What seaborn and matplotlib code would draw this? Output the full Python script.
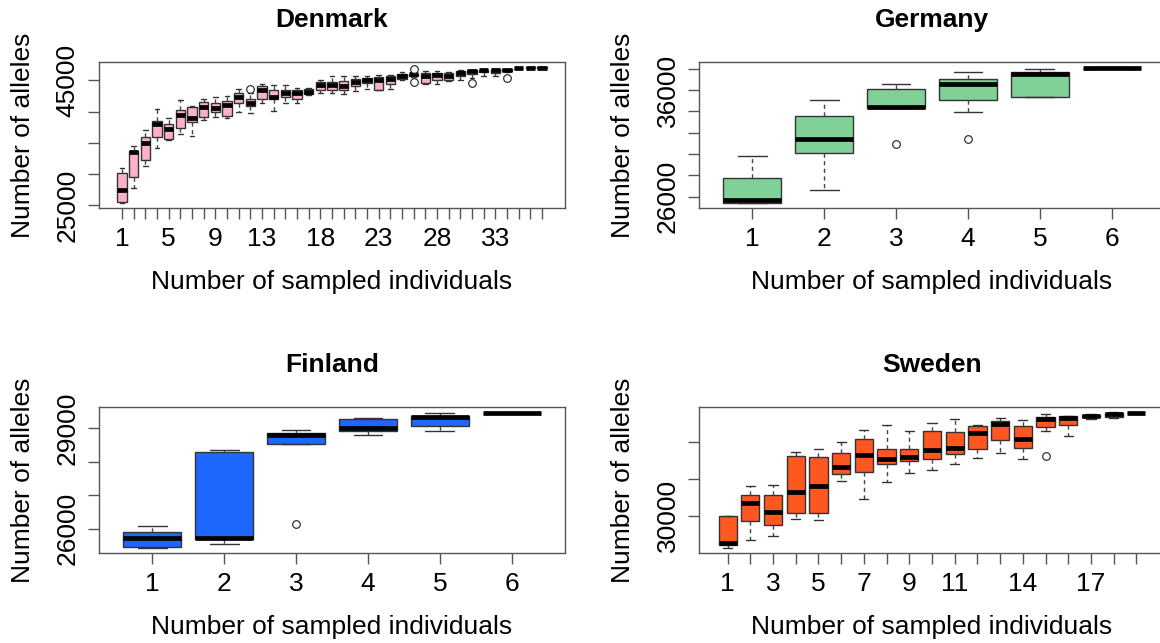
import numpy as np
import pandas as pd
import matplotlib
matplotlib.use("Agg")
import matplotlib.pyplot as plt
import seaborn as sns

# ---------------- data (box statistics) ----------------
# Denmark: 37 boxes
dk_lo  = [25430, 27750, 31320, 34110, 35530, 36430, 36050, 38690, 39210, 38960,
          40000, 39840, 41330, 40110, 41330, 41420, 42640, 42910, 42910, 42750,
          43270, 43700, 43540, 43700, 45000, 45560, 44450, 44370, 44850, 45000,
          45320, 45640, 45640, 46350, 46930, 47020, 47030]
dk_q1  = [25540, 29580, 32220, 35960, 35640, 37380, 38260, 39210, 39910, 39370,
          41420, 40900, 41960, 41960, 42370, 42010, 42800, 43430, 43540, 43540,
          44060, 44640, 43540, 44490, 45160, 45750, 44530, 45000, 45000, 45640,
          45950, 46270, 46110, 46430, 46960, 47040, 47050]
dk_med = [27370, 33530, 34900, 38060, 37270, 39480, 39050, 40790, 40540, 41060,
          42370, 41330, 43430, 42370, 43000, 43060, 43160, 44330, 44330, 44060,
          44740, 45010, 45120, 45270, 45640, 45950, 45640, 45800, 45720, 46110,
          46430, 46590, 46660, 46660, 46980, 47060, 47060]
dk_q3  = [30120, 33690, 35960, 38420, 38060, 40270, 40790, 41480, 41330, 41740,
          43000, 41960, 44060, 43540, 43540, 43540, 43590, 44740, 44740, 44850,
          45270, 45430, 45530, 45640, 45950, 46100, 46110, 46110, 46190, 46430,
          46590, 46740, 46820, 46820, 47000, 47070, 47070]
dk_hi  = [30900, 34470, 37110, 40380, 38960, 41850, 40850, 41960, 42270, 42530,
          43590, 42910, 44490, 44330, 44330, 43790, 43850, 45120, 45640, 45750,
          45640, 45640, 45800, 45800, 46270, 46430, 46430, 46430, 46270, 46590,
          46740, 46820, 46900, 46900, 47020, 47080, 47080]
dk_out_n = [12, 26, 26, 31, 34]
dk_out_v = [43600, 46820, 44690, 44530, 45320]

# Germany: 6 boxes
de_lo  = [25450, 26640, 34280, 33900, 35300, 38050]
de_q1  = [25450, 30050, 34280, 35020, 35300, 38070]
de_med = [25730, 31430, 34370, 36580, 37500, 38090]
de_q3  = [27750, 33550, 36100, 37040, 37680, 38100]
de_hi  = [29860, 35100, 36580, 37680, 37960, 38110]
de_out_n = [3, 4]
de_out_v = [30970, 31430]

# Finland: 6 boxes
fi_lo  = [25430, 25550, 28530, 28780, 28900, 29450]
fi_q1  = [25460, 25680, 28530, 28900, 29050, 29455]
fi_med = [25710, 25710, 28780, 29000, 29320, 29460]
fi_q3  = [25900, 28300, 28850, 29270, 29370, 29465]
fi_hi  = [26070, 28360, 28930, 29290, 29440, 29470]
fi_out_n = [3]
fi_out_v = [26150]

# Sweden: 19 boxes
se_lo  = [25650, 26670, 27290, 29560, 29430, 34670, 32320, 34630, 35870, 36190,
          36990, 37870, 38530, 37730, 41520, 40850, 43200, 43290, 43940]
se_q1  = [26000, 29330, 28670, 30320, 30320, 35650, 36000, 36990, 37430, 37790,
          38450, 39070, 40320, 39200, 42090, 42400, 43430, 43430, 43950]
se_med = [26320, 31730, 30530, 33200, 34090, 36630, 38230, 37790, 38000, 38990,
          39200, 41330, 42530, 40450, 43200, 43330, 43650, 43870, 43960]
se_q3  = [30000, 32890, 32890, 38090, 37960, 38530, 40450, 39120, 39120, 41560,
          41430, 42190, 42850, 42230, 43430, 43560, 43790, 44000, 43970]
se_hi  = [30000, 34000, 34230, 38670, 39070, 40000, 41730, 42400, 41560, 42670,
          43200, 42400, 43330, 43120, 43870, 43650, 43870, 44090, 43980]
se_out_n = [15]
se_out_v = [38190]

# axis tick labels (as shown; blank = tick without label)
dk_xlabels = ["1", "5", "9", "13", "18", "23", "28", "33"]
se_xlabels = ["1", "3", "5", "7", "9", "11", "14", "17"]
de_xlabels = ["1", "2", "3", "4", "5", "6"]
fi_xlabels = ["1", "2", "3", "4", "5", "6"]

dk_yticks = [25000, 30000, 35000, 40000, 45000]
dk_ylabels = ["25000", "", "", "", "45000"]
de_yticks = [26000, 28000, 30000, 32000, 34000, 36000, 38000]
de_ylabels = ["26000", "", "", "", "", "36000", ""]
fi_yticks = [26000, 27000, 28000, 29000]
fi_ylabels = ["26000", "", "", "29000"]
se_yticks = [30000, 35000, 40000]
se_ylabels = ["30000", "", ""]

titles = ["Denmark", "Germany", "Finland", "Sweden"]
colors = ["#FDB1C8", "#80D197", "#1F66FF", "#FF5722"]

# ---------------- style ----------------
sns.set_theme(style="white")
plt.rcParams["font.family"] = ["Liberation Sans", "DejaVu Sans"]
plt.rcParams["text.color"] = "black"
plt.rcParams["axes.labelcolor"] = "black"
plt.rcParams["xtick.color"] = "black"
plt.rcParams["ytick.color"] = "black"
plt.rcParams["axes.titlecolor"] = "black"
FS = 19
EDGE = "#555555"

W, H = 1160, 643
fig = plt.figure(figsize=(W / 100, H / 100), dpi=100)


def frame(x0, y0, w=466, h=146):
    return [x0 / W, 1 - (y0 + h) / H, w / W, h / H]


def panel(pos, lo, q1, med, q3, hi, out_n, out_v, xlabels, yticks, ylabels,
          title, color):
    ax = fig.add_axes(pos)
    n = len(med)
    order = [str(i) for i in range(1, n + 1)]
    rows = []
    for i in range(n):
        vals = [lo[i], lo[i], q1[i], (q1[i] + med[i]) / 2, med[i],
                (med[i] + q3[i]) / 2, q3[i], hi[i], hi[i]]
        rows += [(order[i], v) for v in vals]
    df = pd.DataFrame(rows, columns=["n", "alleles"])
    sns.boxplot(data=df, x="n", y="alleles", order=order, ax=ax,
                color=color, saturation=1, width=0.8, whis=(0, 100),
                showfliers=False, linecolor="#333333", linewidth=1.0,
                medianprops=dict(color="black", linewidth=3.4),
                whiskerprops=dict(linestyle=(0, (3, 2.5)), color="#444444"),
                capprops=dict(color="#333333"))
    if out_n:
        odf = pd.DataFrame({"n": [str(k) for k in out_n], "alleles": out_v})
        sns.stripplot(data=odf, x="n", y="alleles", order=order, ax=ax,
                      jitter=False, color="white", edgecolor="#333333",
                      linewidth=0.9, size=5.5, zorder=4)
    # R-like limits
    allv = list(lo) + list(hi) + list(out_v)
    vmin, vmax = min(allv), max(allv)
    r = vmax - vmin
    ax.set_ylim(vmin - 0.04 * r, vmax + 0.04 * r)
    ax.set_xlim(-0.5 - 0.04 * n, n - 0.5 + 0.04 * n)
    ax.set_xticks(range(n))
    ax.set_xticklabels([o if o in xlabels else "" for o in order], fontsize=FS)
    ax.set_yticks(yticks)
    ax.set_yticklabels(ylabels, fontsize=FS, rotation=90, va="center")
    ax.tick_params(axis="both", length=8, width=1, color=EDGE, pad=6,
                   bottom=True, left=True, labelcolor="black")
    for s in ax.spines.values():
        s.set_visible(True)
        s.set_color(EDGE)
        s.set_linewidth(1.0)
    ax.set_title(title, fontsize=FS, fontweight="bold", pad=25, color="black")
    ax.set_xlabel("Number of sampled individuals", fontsize=FS, color="black")
    ax.set_ylabel("Number of alleles", fontsize=FS, color="black")
    ax.yaxis.set_label_coords(-0.164, 0.5)
    ax.yaxis.label.set_va("center")
    return ax


ax1 = panel(frame(99, 62), dk_lo, dk_q1, dk_med, dk_q3, dk_hi, dk_out_n, dk_out_v,
            dk_xlabels, dk_yticks, dk_ylabels, titles[0], colors[0])
ax1.xaxis.set_label_coords(0.5, -0.507)
ax1.xaxis.label.set_va("center")

ax2 = panel(frame(699, 62), de_lo, de_q1, de_med, de_q3, de_hi, de_out_n, de_out_v,
            de_xlabels, de_yticks, de_ylabels, titles[1], colors[1])
ax2.xaxis.set_label_coords(0.5, -0.507)
ax2.xaxis.label.set_va("center")

ax3 = panel(frame(99, 407), fi_lo, fi_q1, fi_med, fi_q3, fi_hi, fi_out_n, fi_out_v,
            fi_xlabels, fi_yticks, fi_ylabels, titles[2], colors[2])
ax3.xaxis.set_label_coords(0.5, -0.505)
ax3.xaxis.label.set_va("center")

ax4 = panel(frame(699, 407), se_lo, se_q1, se_med, se_q3, se_hi, se_out_n, se_out_v,
            se_xlabels, se_yticks, se_ylabels, titles[3], colors[3])
ax4.xaxis.set_label_coords(0.5, -0.505)
ax4.xaxis.label.set_va("center")

fig.savefig("out.png", dpi=100, facecolor="white")
